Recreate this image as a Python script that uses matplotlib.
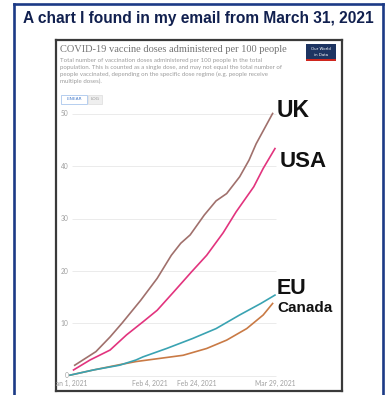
import matplotlib
matplotlib.use("Agg")
import matplotlib.pyplot as plt
from matplotlib.lines import Line2D
from matplotlib.patches import Rectangle

# ---------------- data (days since Jan 1, 2021 ; doses per 100 people) ----------------
uk_days = [2, 11, 17, 22, 30, 37, 43, 47, 51, 57, 62, 66.5, 72, 76, 79, 86]
uk_vals = [2.0, 4.6, 7.4, 10.0, 14.4, 18.6, 23.0, 25.3, 26.9, 30.7, 33.4, 34.8, 38.0, 41.2, 44.3, 50.1]

usa_days = [1.5, 8.5, 17, 24, 31, 37, 44, 51.5, 58, 65, 70.5, 78, 82, 87]
usa_vals = [1.1, 3.0, 4.9, 7.8, 10.3, 12.5, 16.0, 19.8, 23.0, 27.3, 31.3, 36.1, 39.6, 43.4]

eu_days = [0, 10, 21, 28, 31, 41, 52, 62, 72, 81, 87]
eu_vals = [0.1, 1.1, 2.0, 3.0, 3.6, 5.2, 7.1, 9.0, 11.6, 13.8, 15.4]

canada_days = [0, 10, 21, 28, 38, 48, 58, 66.5, 75, 82, 86]
canada_vals = [0.1, 1.1, 2.1, 2.7, 3.3, 3.9, 5.2, 6.8, 9.0, 11.6, 13.8]

y_ticks = [0, 10, 20, 30, 40, 50]
x_tick_days = [0, 34, 54, 87]
x_tick_labels = ["Jan 1, 2021", "Feb 4, 2021", "Feb 24, 2021", "Mar 29, 2021"]

series_names = ["UK", "USA", "EU", "Canada"]

title = "A chart I found in my email from March 31, 2021"
chart_title = "COVID-19 vaccine doses administered per 100 people"
chart_subtitle = [
    "Total number of vaccination doses administered per 100 people in the total",
    "population. This is counted as a single dose, and may not equal the total number of",
    "people vaccinated, depending on the specific dose regime (e.g. people receive",
    "multiple doses).",
]

# ---------------- layout helpers ----------------
W, H = 391, 395
fig = plt.figure(figsize=(W / 100, H / 100), dpi=100)
fig.patch.set_facecolor("white")


def fx(px):
    return px / W


def fy(py):
    return 1 - py / H


# outer blue frame (no bottom edge visible)
navy = "#1c3a86"
for xs, ys in [([14, 14], [396, 4]), ([14, 383], [4, 4]), ([383, 383], [4, 396])]:
    fig.add_artist(Line2D([fx(x) for x in xs], [fy(y) for y in ys], color=navy,
                          lw=1.9, transform=fig.transFigure, solid_capstyle="projecting"))

fig.text(fx(198), fy(18), title, ha="center", va="center", fontsize=11.2,
         fontweight="bold", color="#11204f", family="Liberation Sans")

# ---------------- inner chart ----------------
L, R, T, B = 56, 342, 40, 391
ax = fig.add_axes([fx(L), fy(B), (R - L) / W, (B - T) / H])
x0px, pxday = 70.0, 2.356
y0px, pxval = 375.7, 5.234
ax.set_xlim((L - x0px) / pxday, (R - x0px) / pxday)
ax.set_ylim((y0px - B) / pxval, (y0px - T) / pxval)
ax.set_xticks([])
ax.set_yticks([])
for s in ax.spines.values():
    s.set_color("#3a3a3a")
    s.set_linewidth(1.6)

ax.hlines(y_ticks, 0.8, 87.5, color="#e8e8e8", lw=0.6, zorder=1)
for v in y_ticks:
    ax.text(-0.7, v, str(v), ha="right", va="center", fontsize=4.8,
            color="#a0a0a0", family="Lato")
ylab = (y0px - 383) / pxval
for d, lab in zip(x_tick_days, x_tick_labels):
    ax.text(d, ylab, lab, ha="center", va="center", fontsize=4.9,
            color="#a0a0a0", family="Lato", clip_on=True)

colors = {"UK": "#a0706c", "USA": "#e2347e", "EU": "#3aa3b2", "Canada": "#c97a45"}
data = {"UK": (uk_days, uk_vals), "USA": (usa_days, usa_vals),
        "EU": (eu_days, eu_vals), "Canada": (canada_days, canada_vals)}
for name in ["Canada", "EU", "USA", "UK"]:
    d, v = data[name]
    ax.plot(d, v, color=colors[name], lw=1.2, zorder=3, solid_joinstyle="round")

# header inside the screenshot
fig.text(fx(60), fy(49.5), chart_title, ha="left", va="center", fontsize=7.5,
         color="#737373", family="Liberation Serif")
for i, line in enumerate(chart_subtitle):
    fig.text(fx(60), fy(60.5 + i * 7), line, ha="left", va="center", fontsize=4.45,
             color="#9c9c9c", family="Lato")

# OWID logo
fig.add_artist(Rectangle((fx(306), fy(61)), (336 - 306) / W, 17 / H, transform=fig.transFigure,
                         facecolor="#1d3461", edgecolor="none"))
fig.add_artist(Rectangle((fx(306), fy(61)), (336 - 306) / W, 2 / H, transform=fig.transFigure,
                         facecolor="#ce261e", edgecolor="none"))
fig.text(fx(321), fy(49), "Our World", ha="center", va="center", fontsize=2.8, color="white")
fig.text(fx(321), fy(55), "in Data", ha="center", va="center", fontsize=2.8, color="white")

# LINEAR / LOG buttons
fig.add_artist(Rectangle((fx(61), fy(103.5)), 26 / W, 8.5 / H, transform=fig.transFigure,
                         facecolor="white", edgecolor="#a9c6ec", lw=0.6))
fig.text(fx(74), fy(99.3), "LINEAR", ha="center", va="center", fontsize=3.2, color="#4a7fcc")
fig.add_artist(Rectangle((fx(88), fy(103.5)), 14 / W, 8.5 / H, transform=fig.transFigure,
                         facecolor="#efefef", edgecolor="#dddddd", lw=0.5))
fig.text(fx(95), fy(99.3), "LOG", ha="center", va="center", fontsize=3.2, color="#999999")

# big series labels
label_pos = {"UK": (277, 117, 16.5), "USA": (280, 167, 16), "EU": (277, 294, 15.5),
             "Canada": (277, 312, 11)}
for name in series_names:
    px, py, fs = label_pos[name]
    fig.text(fx(px), fy(py), name, ha="left", va="baseline", fontsize=fs,
             fontweight="bold", color="#111111", family="Liberation Sans")

fig.savefig("out.png", dpi=100)
